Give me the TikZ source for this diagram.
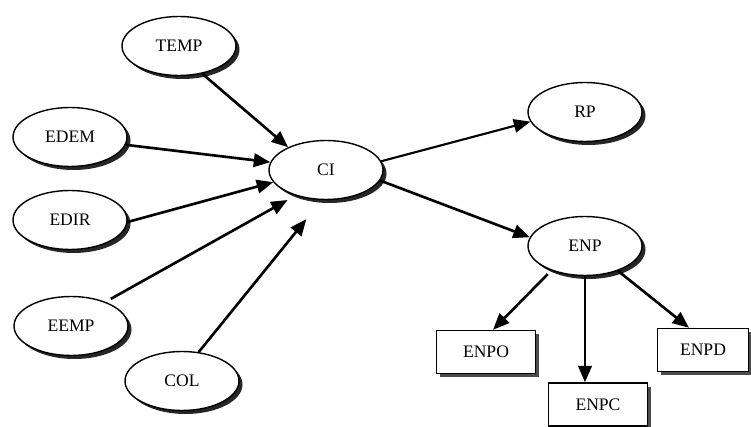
\documentclass[tikz,border=0pt]{standalone}
\usepackage{fontspec}
\setmainfont{Liberation Serif}
\usetikzlibrary{arrows.meta,shadows,shapes.geometric}

\begin{document}
\begin{tikzpicture}[scale=1.0,
    latent/.style={ellipse,draw,line width=0.8pt,fill=white,minimum width=2.28cm,
      minimum height=1.18cm,inner sep=0pt,font=\fontsize{10}{12}\selectfont,
      drop shadow={shadow xshift=0.07cm,shadow yshift=-0.07cm,fill=black!85,opacity=1}},
    indicator/.style={rectangle,draw,line width=0.8pt,fill=white,minimum width=1.98cm,
      minimum height=0.86cm,inner sep=0pt,font=\fontsize{10}{12}\selectfont,
      drop shadow={shadow xshift=0.07cm,shadow yshift=-0.07cm,fill=black!70,opacity=1}},
    link/.style={->,line width=1.5pt},
    >={Triangle[length=3.3mm,width=2.7mm]}]
  \useasboundingbox (0,0) rectangle (15.02,8.52);

  \node[latent] (temp) at (3.58,7.60) {TEMP};           % causes of CI
  \node[latent] (edem) at (1.40,5.78) {EDEM};
  \node[latent] (edir) at (1.40,4.12) {EDIR};
  \node[latent] (eemp) at (1.42,2.00) {EEMP};
  \node[latent] (col)  at (3.64,0.90) {COL};

  \node[latent] (ci)   at (6.52,5.12) {CI};             % central construct
  \node[latent] (rp)   at (11.70,6.28) {RP};            % consequences
  \node[latent] (enp)  at (11.70,3.60) {ENP};

  \node[indicator] (enpo) at (9.72,1.48) {ENPO};        % indicators of ENP
  \node[indicator] (enpc) at (11.96,0.43) {ENPC};
  \node[indicator,minimum width=1.82cm] (enpd) at (14.06,1.52) {ENPD};

  \draw[link] (temp.-50) -- (ci.149);                   % arrows into CI
  \draw[link] (edem.-8) -- (ci.172);
  \draw[link] (edir.-2) -- (ci.193);
  \draw[link,shorten <=0.12cm,shorten >=0.18cm] (eemp.35) -- (ci.220);
  \draw[link,shorten >=0.49cm] (col.60) -- (ci.262);

  \draw[link,line width=1.2pt] (ci.9) -- (rp.190);      % arrows out of CI
  \draw[link] (ci.-11) -- (enp.171);

  \draw[link,shorten <=0.1cm] (enp.216) -- ([xshift=0.14cm]enpo.north);   % arrows to indicators
  \draw[link] (enp.south) -- (enp.south |- enpc.north);
  \draw[link] (enp.-37) -- ([xshift=-0.28cm]enpd.north);
\end{tikzpicture}
\end{document}
